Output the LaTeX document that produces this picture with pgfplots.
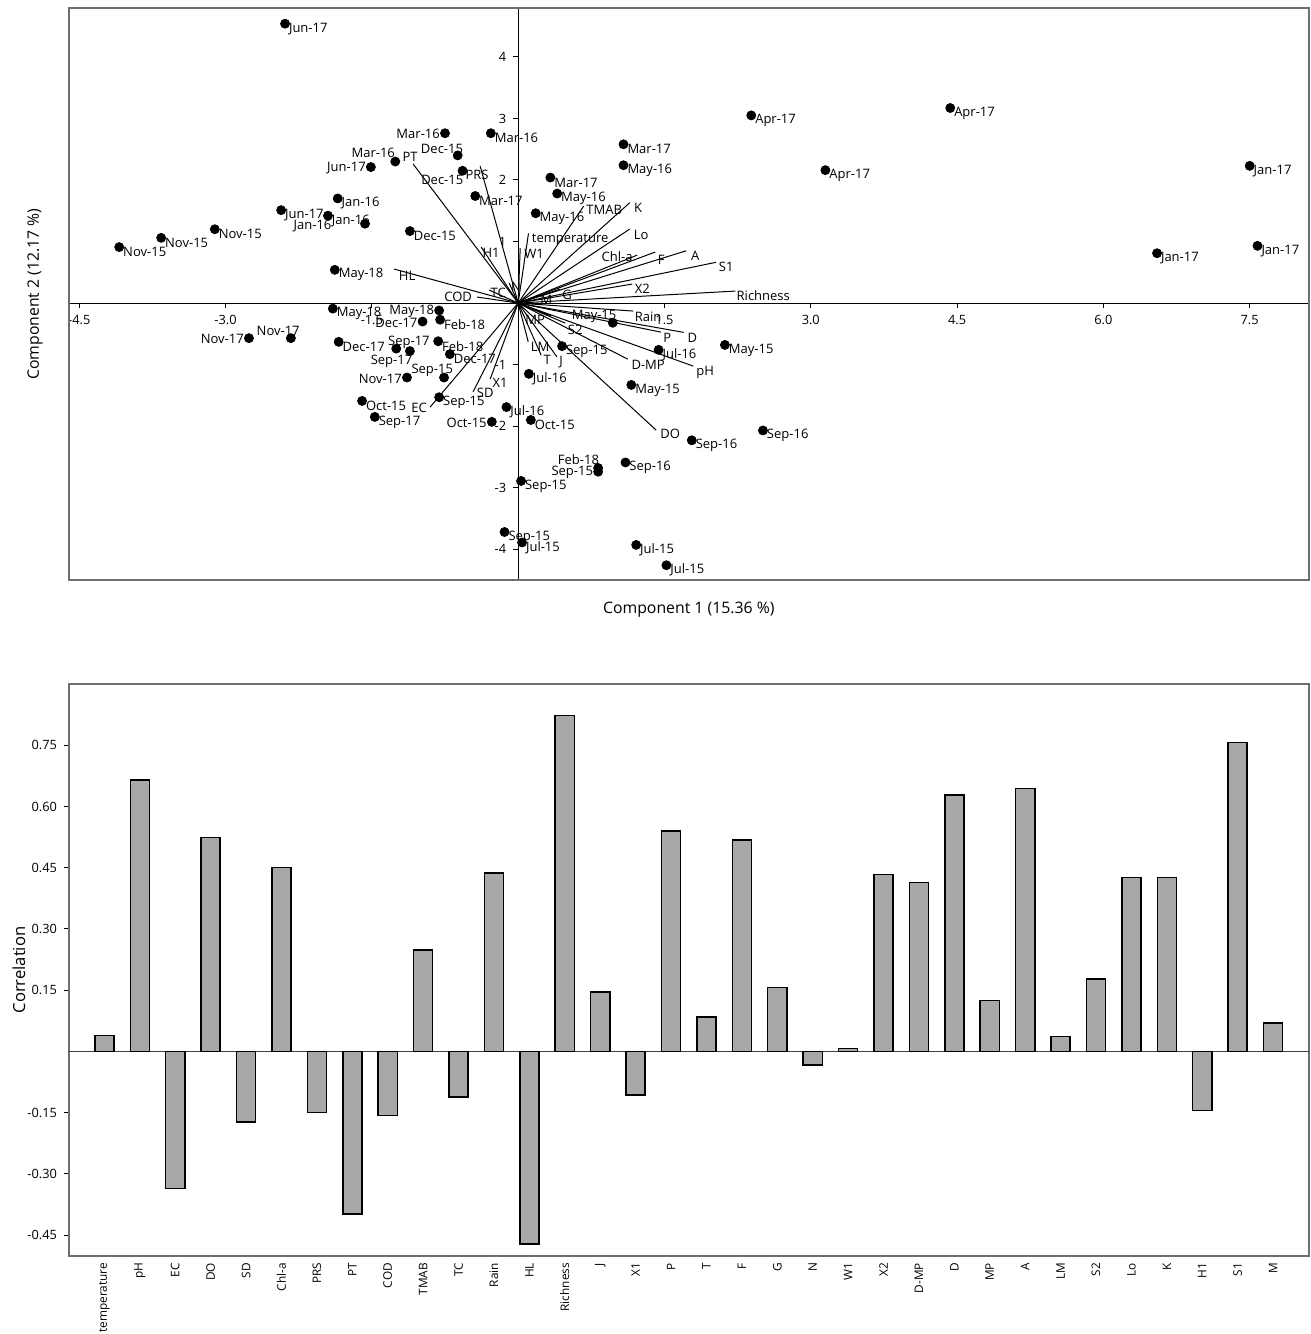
\documentclass[border=0pt]{standalone}
\usepackage{fontspec}
\setmainfont{Open Sans}
\usepackage{pgfplots}
\usepackage{pgfplotstable}
\pgfplotsset{compat=1.18}
\definecolor{barfill}{RGB}{168,168,168}
\definecolor{framec}{RGB}{110,110,110}
\newcommand{\lblfont}{\fontsize{6.5}{7.5}\selectfont}
\newcommand{\tickfont}{\fontsize{6.4}{7.2}\selectfont}
\newcommand{\xtickfont}{\fontsize{5.9}{6.8}\selectfont}

% points with label to the lower right
\pgfplotstableread{
x y label
-2.39 4.54 Jun-17
-0.28 2.76 Mar-16
-0.44 1.74 Mar-17
-1.85 1.70 Jan-16
-2.43 1.51 Jun-17
-1.95 1.42 Jan-16
-1.11 1.17 Dec-15
-3.11 1.20 Nov-15
-3.66 1.06 Nov-15
-4.09 0.91 Nov-15
-1.88 0.54 May-18
1.08 2.58 Mar-17
1.08 2.24 May-16
0.33 2.04 Mar-17
0.40 1.78 May-16
0.18 1.46 May-16
2.39 3.05 Apr-17
4.43 3.17 Apr-17
3.15 2.16 Apr-17
7.50 2.23 Jan-17
6.55 0.81 Jan-17
7.58 0.93 Jan-17
-1.90 -0.09 May-18
-0.80 -0.27 Feb-18
-1.84 -0.63 Dec-17
-0.82 -0.62 Feb-18
-0.70 -0.83 Dec-17
-1.60 -1.59 Oct-15
-1.47 -1.85 Sep-17
-0.81 -1.53 Sep-15
-0.12 -1.69 Jul-16
0.13 -1.90 Oct-15
0.11 -1.15 Jul-16
0.45 -0.70 Sep-15
1.44 -0.76 Jul-16
2.12 -0.68 May-15
1.16 -1.33 May-15
2.51 -2.07 Sep-16
1.78 -2.23 Sep-16
1.10 -2.59 Sep-16
0.03 -2.89 Sep-15
-0.14 -3.72 Sep-15
0.04 -3.89 Jul-15
1.21 -3.93 Jul-15
1.52 -4.26 Jul-15
}\ptsR

% points with label to the left
\pgfplotstableread{
x y label
-0.75 2.76 Mar-16
-1.51 2.21 Jun-17
-0.81 -0.12 May-18
-0.98 -0.30 Dec-17
-2.76 -0.57 Nov-17
-1.14 -1.21 Nov-17
-0.27 -1.93 Oct-15
0.82 -2.74 Sep-15
}\ptsL

% points with individually placed labels (offset of label centre, pt)
\pgfplotstableread{
x y dx dy label
-0.62 2.40 -7.85 3.35 Dec-15
-1.26 2.30 -11.0 4.2 Mar-16
-0.57 2.15 -10.15 -4.5 Dec-15
-1.57 1.29 -26.25 -1.0 Jan-16
-2.33 -0.57 -6.35 3.8 Nov-17
-1.25 -0.74 -2.35 -6.15 Sep-17
-1.11 -0.78 -0.5 4.5 Sep-17
-0.76 -1.21 -5.9 3.65 Sep-15
0.97 -0.32 -9.35 3.0 May-15
0.82 -2.68 -9.85 4.0 Feb-18
}\ptsS

% variable vectors: end point (u,v) and label centre (lx,ly)
\pgfplotstableread{
x y u v lx ly label
0 0 0.106 1.133 0.533 1.024 temperature
0 0 1.795 -1.024 1.918 -1.122 pH
0 0 -0.903 -1.691 -1.015 -1.707 EC
0 0 1.415 -2.065 1.559 -2.130 DO
0 0 -0.462 -1.442 -0.338 -1.463 SD
0 0 1.221 0.780 1.015 0.748 Chl-a
0 0 -0.390 2.228 -0.421 2.081 PRS
0 0 -1.077 2.260 -1.108 2.374 PT
0 0 -0.421 0.098 -0.615 0.098 COD
0 0 0.672 1.577 0.882 1.512 TMAB
0 0 -0.297 0.211 -0.205 0.163 TC
0 0 1.179 -0.130 1.333 -0.228 Rain
0 0 -1.272 0.553 -1.138 0.439 HL
0 0 2.226 0.195 2.513 0.114 Richness
0 0 0.397 -0.873 0.441 -0.959 J
0 0 -0.287 -1.236 -0.185 -1.301 X1
0 0 1.463 -0.472 1.528 -0.569 P
0 0 0.236 -0.846 0.297 -0.927 T
0 0 1.405 0.829 1.467 0.699 F
0 0 0.431 0.228 0.503 0.130 G
0 0 -0.092 0.325 -0.021 0.260 N
0 0 0.021 0.894 0.164 0.797 W1
0 0 1.169 0.309 1.272 0.228 X2
0 0 1.123 -0.911 1.333 -1.008 D-MP
0 0 1.697 -0.476 1.785 -0.569 D
0 0 0.338 -0.211 0.174 -0.276 MP
0 0 1.723 0.850 1.815 0.764 A
0 0 0.103 -0.629 0.226 -0.715 LM
0 0 0.482 -0.325 0.585 -0.439 S2
0 0 1.144 1.203 1.262 1.106 Lo
0 0 1.144 1.631 1.231 1.545 K
0 0 -0.379 0.911 -0.277 0.813 H1
0 0 2.027 0.662 2.133 0.585 S1
0 0 0.195 0.114 0.287 0.049 M
}\vecs

\begin{document}
\begin{tikzpicture}
\useasboundingbox (0,0) rectangle (655.5pt,-667pt);

% ---------------- biplot ----------------
\begin{axis}[
  at={(34.5pt,-4.15pt)}, anchor=north west,
  scale only axis, width=619.75pt, height=285.85pt,
  xmin=-4.605, xmax=8.103, ymin=-4.50, ymax=4.79,
  axis lines=middle,
  axis line style={-, black, line width=0.5pt},
  every inner x axis line/.append style={-},
  every inner y axis line/.append style={-},
  xtick={-4.5,-3,-1.5,1.5,3,4.5,6,7.5},
  ytick={-4,-3,-2,-1,1,2,3,4},
  tick align=outside, major tick length=2.5pt,
  tick style={black, line width=0.5pt},
  /pgf/number format/assume math mode=true,
  tick label style={font=\tickfont},
  xticklabel style={/pgf/number format/fixed, /pgf/number format/fixed zerofill, /pgf/number format/precision=1},
  clip=false,
]
\draw[framec, line width=1pt] (rel axis cs:0,0) rectangle (rel axis cs:1,1);

\addplot[black, line width=0.5pt, quiver={u=\thisrow{u}, v=\thisrow{v}}]
  table[x=x, y=y] {\vecs};

\addplot[draw=none, mark=none, nodes near coords, point meta=explicit symbolic,
  every node near coord/.append style={anchor=center, inner sep=0pt, font=\lblfont, text=black}]
  table[x=lx, y=ly, meta=label] {\vecs};

\addplot[only marks, mark=*, mark size=2.25pt, black,
  nodes near coords, point meta=explicit symbolic,
  every node near coord/.append style={anchor=west, xshift=1.8pt, yshift=-2.5pt, inner sep=0pt, font=\lblfont, text=black}]
  table[x=x, y=y, meta=label] {\ptsR};

\addplot[only marks, mark=*, mark size=2.25pt, black,
  nodes near coords, point meta=explicit symbolic,
  every node near coord/.append style={anchor=east, xshift=-2.4pt, yshift=-0.5pt, inner sep=0pt, font=\lblfont, text=black}]
  table[x=x, y=y, meta=label] {\ptsL};

\addplot[only marks, mark=*, mark size=2.25pt, black,
  visualization depends on={\thisrow{dx} \as \dxv},
  visualization depends on={\thisrow{dy} \as \dyv},
  nodes near coords, point meta=explicit symbolic,
  every node near coord/.append style={anchor=center, xshift=\dxv pt, yshift=\dyv pt, inner sep=0pt, font=\lblfont, text=black}]
  table[x=x, y=y, meta=label] {\ptsS};

\node[font=\fontsize{7.9}{9}\selectfont] at ([yshift=-15pt]axis description cs:0.5,0) {Component 1 (15.36 \%)};
\node[font=\fontsize{7.9}{9}\selectfont, rotate=90] at ([xshift=-17pt]axis description cs:0,0.5) {Component 2 (12.17 \%)};
\end{axis}

% ---------------- correlation bars ----------------
\begin{axis}[
  at={(34.5pt,-342pt)}, anchor=north west,
  scale only axis, width=619.75pt, height=286pt,
  xmin=-1, xmax=34, ymin=-0.501, ymax=0.900,
  axis line style={framec, line width=1pt},
  xtick={0,...,33},
  xticklabels={temperature,pH,EC,DO,SD,Chl-a,PRS,PT,COD,TMAB,TC,Rain,HL,Richness,J,X1,P,T,F,G,N,W1,X2,D-MP,D,MP,A,LM,S2,Lo,K,H1,S1,M},
  xticklabel style={rotate=90, anchor=east, font=\xtickfont, inner sep=0.8pt},
  x tick style={draw=none},
  ytick={-0.45,-0.3,-0.15,0.15,0.3,0.45,0.6,0.75},
  ytick pos=left, tick align=outside, major tick length=2.5pt,
  y tick style={black, line width=0.5pt},
  /pgf/number format/assume math mode=true,
  yticklabel style={font=\tickfont, /pgf/number format/fixed, /pgf/number format/fixed zerofill, /pgf/number format/precision=2},
  clip=false,
]
\addplot[black!75, line width=0.5pt] coordinates {(-1,0) (34,0)};
\addplot[ybar, bar width=0.54, fill=barfill, draw=black, line width=0.75pt] coordinates {
(0,0.039) (1,0.665) (2,-0.335) (3,0.524) (4,-0.173) (5,0.451) (6,-0.149) (7,-0.398)
(8,-0.157) (9,0.249) (10,-0.111) (11,0.437) (12,-0.471) (13,0.823) (14,0.146) (15,-0.107)
(16,0.540) (17,0.085) (18,0.518) (19,0.157) (20,-0.033) (21,0.007) (22,0.433) (23,0.414)
(24,0.628) (25,0.125) (26,0.644) (27,0.037) (28,0.178) (29,0.426) (30,0.426) (31,-0.145)
(32,0.757) (33,0.070)
};
\node[font=\fontsize{8.3}{9.5}\selectfont, rotate=90] at ([xshift=-25pt]axis description cs:0,0.5) {Correlation};
\end{axis}
\end{tikzpicture}
\end{document}
